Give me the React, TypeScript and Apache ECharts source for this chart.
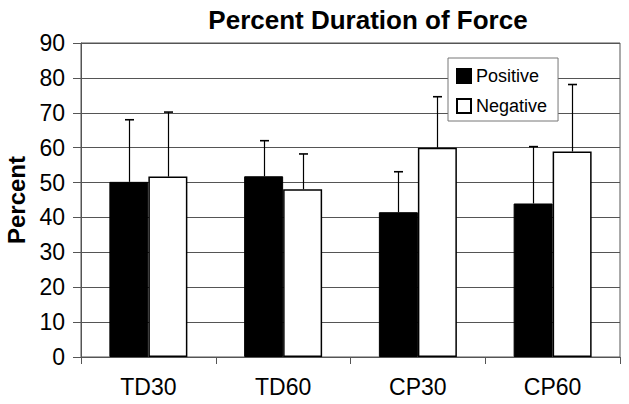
import React, { useEffect, useRef } from "react";
import * as echarts from "echarts";

const categories = ["TD30", "TD60", "CP30", "CP60"];
const positiveValues = [50.2, 51.8, 41.5, 44.0];
const positiveErrorTops = [68.0, 62.0, 53.1, 60.3];
const negativeValues = [51.7, 48.1, 60.0, 58.9];
const negativeErrorTops = [70.2, 58.2, 74.6, 78.1];
const yTicks = { min: 0, max: 90, interval: 10 };

const FONT = "'Liberation Sans', Arial, sans-serif";
const BAR_W = 39;

function errorSeries(name: string, values: number[], tops: number[], side: number) {
  return {
    type: "custom",
    name: name + " error",
    z: 5,
    silent: true,
    data: values.map((v, i) => [i, v, tops[i]]),
    encode: { x: 0, y: [1, 2] },
    renderItem: (params: any, api: any) => {
      const i = api.value(0);
      const base = api.coord([i, api.value(1)]);
      const top = api.coord([i, api.value(2)]);
      const x = Math.round(base[0] + side * BAR_W / 2) + 0.5;
      const style = { stroke: "#000", lineWidth: 1.2 };
      return {
        type: "group",
        children: [
          { type: "line", shape: { x1: x, y1: base[1], x2: x, y2: top[1] }, style },
          { type: "line", shape: { x1: x - 4.5, y1: top[1], x2: x + 4.5, y2: top[1] }, style: { stroke: "#000", lineWidth: 1.6 } },
        ],
      };
    },
  };
}

export default function App() {
  const ref = useRef<HTMLDivElement>(null);
  useEffect(() => {
    if (!ref.current) return;
    const chart = echarts.init(ref.current, null, { renderer: "svg" });
    chart.setOption({
      animation: false,
      backgroundColor: "#fff",
      title: {
        text: "Percent Duration of Force",
        left: 363,
        textAlign: "center",
        top: 2,
        textStyle: { fontFamily: FONT, fontSize: 26, fontWeight: "bold", color: "#000" },
      },
      legend: {
        data: ["Positive", "Negative"],
        orient: "vertical",
        left: 448,
        top: 58,
        padding: [9, 11, 6, 8],
        itemGap: 12,
        itemWidth: 14,
        itemHeight: 14,
        icon: "rect",
        backgroundColor: "#fff",
        borderColor: "#777",
        borderWidth: 1,
        textStyle: { fontFamily: FONT, fontSize: 18, color: "#000" },
      },
      grid: {
        left: 81,
        right: 9,
        top: 43,
        bottom: 47,
        containLabel: false,
        outerBoundsMode: "none",
        show: true,
        borderColor: "#555",
        borderWidth: 1,
      },
      xAxis: {
        type: "category",
        data: categories,
        axisLine: { lineStyle: { color: "#555", width: 1 } },
        axisTick: { show: true, length: 7, lineStyle: { color: "#555" } },
        axisLabel: { fontFamily: FONT, fontSize: 23, color: "#000", margin: 18 },
      },
      yAxis: {
        type: "value",
        min: yTicks.min,
        max: yTicks.max,
        interval: yTicks.interval,
        name: "Percent",
        nameLocation: "middle",
        nameGap: 52,
        nameTextStyle: { fontFamily: FONT, fontSize: 24, fontWeight: "bold", color: "#000" },
        axisLine: { show: true, lineStyle: { color: "#555", width: 1 } },
        axisTick: { show: true, length: 8, lineStyle: { color: "#555" } },
        axisLabel: { fontFamily: FONT, fontSize: 23, color: "#000", margin: 16 },
        splitLine: { lineStyle: { color: "#555", width: 1 } },
      },
      series: [
        {
          name: "Positive",
          type: "bar",
          data: positiveValues,
          barWidth: BAR_W,
          barGap: "0%",
          z: 3,
          itemStyle: { color: "#000", borderColor: "#000", borderWidth: 1 },
        },
        {
          name: "Negative",
          type: "bar",
          data: negativeValues,
          barWidth: BAR_W,
          barGap: "0%",
          z: 3,
          itemStyle: { color: "#fff", borderColor: "#000", borderWidth: 1.5 },
        },
        errorSeries("Positive", positiveValues, positiveErrorTops, -1),
        errorSeries("Negative", negativeValues, negativeErrorTops, 1),
      ],
    });
    return () => chart.dispose();
  }, []);
  return <div ref={ref} style={{ width: 629, height: 404, position: "absolute", left: 0, top: 0 }} />;
}
